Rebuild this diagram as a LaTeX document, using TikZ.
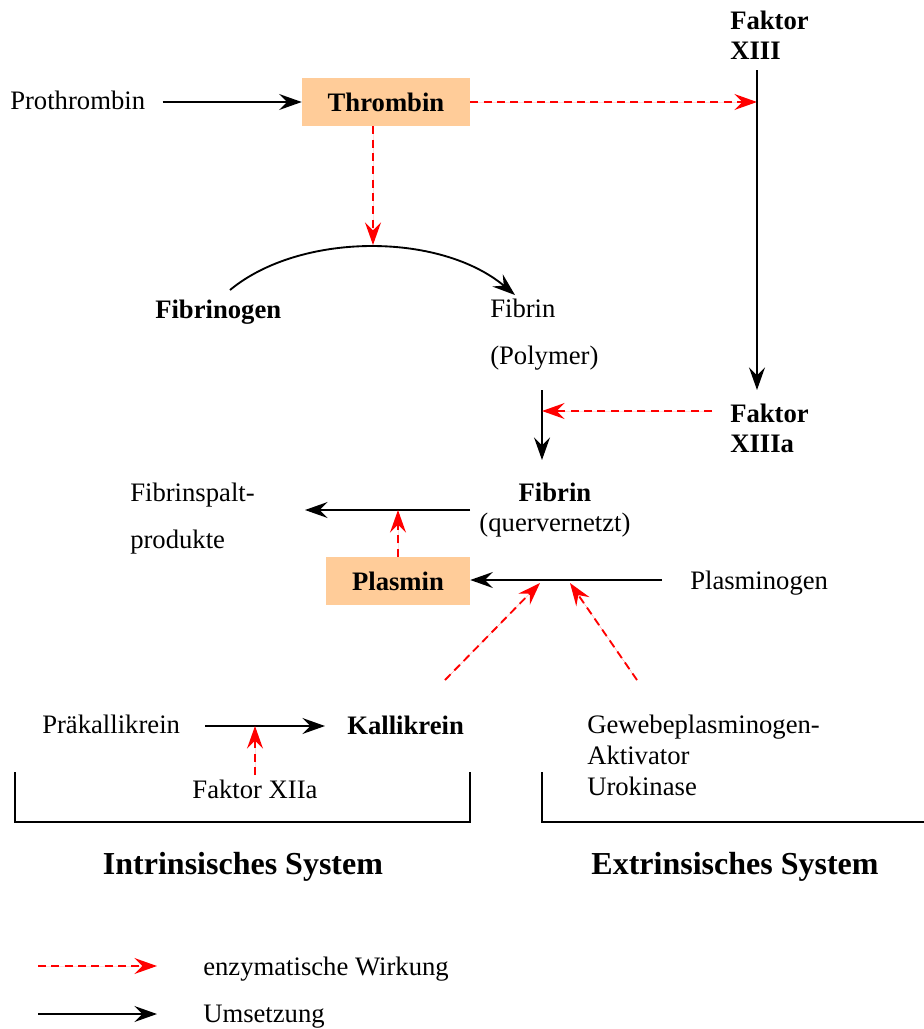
\documentclass[tikz,border=0pt]{standalone}
\usepackage{fontspec}
\setmainfont{Liberation Serif}
\usetikzlibrary{arrows.meta}
\definecolor{enzbox}{HTML}{FFCC99}
\begin{document}
\begin{tikzpicture}
	[x=0.75pt,y=-0.75pt,font=\fontsize{20}{22.5}\selectfont,
	tip/.style={-{Stealth[length=17pt,width=12pt,inset=6pt]}},
	conv/.style={tip,draw=black,line width=1.4pt},
	enz/.style={tip,draw=red,fill=red,line width=1.4pt,dash pattern=on 6pt off 4pt},
	enzym/.style={fill=enzbox,minimum height=36pt,inner sep=0pt,font=\fontsize{20}{22.5}\selectfont\bfseries},
	txt/.style={anchor=base west,inner sep=0pt,align=left},
	title/.style={anchor=base,inner sep=0pt,font=\fontsize{24}{28}\selectfont\bfseries}]
\useasboundingbox (0,0) rectangle (924,1029);
% Thrombin
\node[txt] (prothrombin) at (10,109) {Prothrombin};
\node[enzym,minimum width=126pt] (thrombin) at (386,102) {Thrombin};
\node[txt,font=\fontsize{20}{22.5}\selectfont\bfseries] (fxiii) at (730,59) {Faktor\\XIII};
\coordinate (xiiitop) at (757,70);
\coordinate (xiiibot) at (757,390);
\draw[conv] ([xshift=13pt]prothrombin.east |- thrombin) -- (thrombin.west);
\draw[enz] (thrombin.east) -- (thrombin.east -| xiiitop);
\draw[conv] (xiiitop) -- (xiiibot);
% Fibrinogen -> Fibrin
\node[txt,font=\fontsize{20}{22.5}\selectfont\bfseries] (fibrinogen) at (155,318) {Fibrinogen};
\node[txt,font=\fontsize{20}{35}\selectfont] (fibrin) at (490,364) {Fibrin\\(Polymer)};
\coordinate (peak) at (373,245);
\coordinate (cstart) at (230,290);
\coordinate (cend) at (515,295);
\draw[enz] (thrombin.south -| peak) -- (peak);
\draw[conv] (cstart) .. controls (300,232) and (440,232) .. (cend);
% Faktor XIIIa
\node[txt,font=\fontsize{20}{22.5}\selectfont\bfseries] (fxiiia) at (730,452) {Faktor\\XIIIa};
\coordinate (fpoly) at (542,390);
\coordinate (fquer) at (542,460);
\draw[conv] (fpoly) -- (fquer);
\draw[enz] (712,411) -- (fpoly |- 0,411);
% Fibrin quervernetzt
\node[inner sep=0pt,anchor=base,align=center] (fibrinq) at (555,531) {\textbf{Fibrin}\\(quervernetzt)};
\node[txt,font=\fontsize{20}{35}\selectfont] (spalt) at (130,548) {Fibrinspalt-\\produkte};
\coordinate (qstart) at (470,510);
\coordinate (qend) at (305,510);
\draw[conv] (qstart) -- (qend);
% Plasmin
\node[enzym,minimum width=108pt] (plasmin) at (398,581) {Plasmin};
\node[txt] (plasminogen) at (690,589) {Plasminogen};
\draw[enz] (plasmin.north) -- (plasmin.north |- qend);
\draw[conv] (662,580) -- (plasmin.east |- 0,580);
\coordinate (act1) at (540,583);
\coordinate (act2) at (570,583);
\draw[enz] (445,680) -- (act1);
\draw[enz] (637,680) -- (act2);
% Intrinsisches System
\node[txt] (praekall) at (42,733) {Präkallikrein};
\node[txt,font=\fontsize{20}{22.5}\selectfont\bfseries] (kall) at (347,734) {Kallikrein};
\node[inner sep=0pt,anchor=base] (fxiia) at (255,798) {Faktor XIIa};
\coordinate (kstart) at (205,726);
\coordinate (kend) at (325,726);
\coordinate (kmid) at (255,726);
\draw[conv] (kstart) -- (kend);
\draw[enz] (255,775) -- (kmid);
\draw[line width=1.4pt] (15,772) |- (470,822) -- (470,772);
% Extrinsisches System
\node[txt,font=\fontsize{20}{23}\selectfont] (gewebe) at (587,795) {Gewebeplasminogen-\\Aktivator\\Urokinase};
\draw[line width=1.4pt] (542,772) |- (924,822);
\node[title] (intr) at (243,874) {Intrinsisches System};
\node[title] (extr) at (735,874) {Extrinsisches System};
% Legende
\node[txt] (leg1) at (203,975) {enzymatische Wirkung};
\node[txt] (leg2) at (203,1022) {Umsetzung};
\coordinate (l1) at (38,966);
\coordinate (l2) at (38,1014);
\draw[enz] (l1) -- (157,966);
\draw[conv] (l2) -- (157,1014);
\end{tikzpicture}
\end{document}
